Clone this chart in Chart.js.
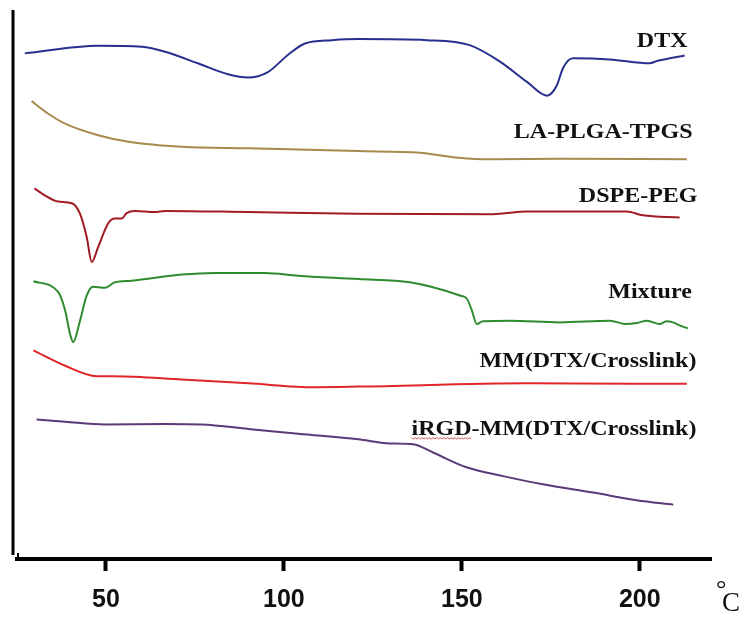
<!DOCTYPE html>
<html>
<head>
    <title>DSC thermograms</title>
    <script src="https://cdn.jsdelivr.net/npm/chart.js"></script>
    <style>
        body {margin: 0; background: #fff;}
        #chartContainer {width: 750px; height: 619px; position: relative;}
    </style>
</head>
<body>
    <div id="chartContainer">
        <canvas id="myChart"></canvas>
    </div>
    <script>
        // curve names, top to bottom
        var names = ['DTX', 'LA-PLGA-TPGS', 'DSPE-PEG', 'Mixture', 'MM(DTX/Crosslink)', 'iRGD-MM(DTX/Crosslink)'];
        var colors = ['#27308f', '#a88a4f', '#a01c24', '#2e8b2e', '#e0262b', '#5b3a7a'];
        var xTicks = [50, 100, 150, 200];

        // temperature (°C) and heat flow (arbitrary offset units)
        var dtxT = [27.2, 47.8, 60.1, 66.6, 75.8, 84.3, 89.9, 95.5, 101.1, 105.9, 113.5, 121.0, 140.2, 152.2, 160.7, 168.3, 173.9, 176.7, 178.4, 181.2, 191.6, 202.8, 204.8, 208.4, 212.6];
        var dtxH = [92.1, 93.5, 93.3, 92.4, 90.3, 88.3, 87.7, 88.7, 91.8, 93.9, 94.5, 94.7, 94.5, 93.6, 90.6, 86.9, 84.4, 86.3, 89.4, 91.2, 91.0, 90.3, 90.7, 91.2, 91.7];

        var laT = [29.1, 33.8, 38.5, 47.8, 57.2, 71.3, 89.9, 120.8, 138.2, 147.5, 158.7, 177.5, 213.2];
        var laH = [83.4, 81.1, 79.3, 77.2, 75.9, 75.1, 74.8, 74.3, 74.0, 73.2, 72.8, 72.9, 72.8];

        var dspeT = [29.9, 32.9, 36.6, 40.4, 42.7, 44.6, 46.0, 47.8, 50.6, 52.5, 54.4, 55.8, 58.1, 63.8, 66.6, 89.9, 120.8, 158.7, 168.3, 196.3, 200.8, 211.2];
        var dspeH = [67.5, 66.2, 65.1, 64.8, 62.9, 58.6, 54.1, 56.8, 61.1, 62.0, 62.0, 63.0, 63.4, 63.2, 63.4, 63.2, 62.9, 62.8, 63.3, 63.3, 62.6, 62.2];

        var mixT = [29.6, 36.6, 38.5, 39.9, 40.8, 42.7, 44.6, 46.4, 49.7, 52.5, 57.2, 71.3, 80.6, 94.7, 104.0, 120.9, 135.4, 149.4, 151.4, 152.8, 154.2, 155.9, 163.5, 177.5, 191.6, 196.0, 199.2, 202.0, 205.6, 207.5, 209.3, 211.0, 213.5];
        var mixH = [50.6, 48.6, 45.3, 41.0, 39.5, 43.4, 48.0, 49.6, 49.4, 50.4, 50.7, 51.8, 52.1, 52.1, 51.6, 51.0, 50.4, 48.0, 47.4, 45.3, 42.8, 43.3, 43.4, 43.1, 43.4, 42.8, 43.0, 43.4, 42.8, 43.3, 43.1, 42.6, 42.0];

        var mmT = [29.6, 38.5, 47.4, 52.5, 71.3, 90.0, 108.7, 120.9, 168.3, 213.2];
        var mmH = [38.0, 35.2, 33.3, 33.3, 32.7, 32.0, 31.3, 31.4, 32.0, 31.9];

        var irgdT = [30.5, 38.5, 49.7, 66.6, 76.9, 90.0, 104.0, 120.9, 128.8, 136.3, 141.9, 151.3, 161.6, 172.8, 186.9, 199.1, 209.4];
        var irgdH = [25.4, 25.0, 24.5, 24.6, 24.5, 23.7, 22.8, 21.8, 21.1, 20.9, 19.4, 16.7, 15.1, 13.6, 12.1, 10.7, 9.9];

        var allT = [dtxT, laT, dspeT, mixT, mmT, irgdT];
        var allH = [dtxH, laH, dspeH, mixH, mmH, irgdH];

        // where each curve name sits (right edge, baseline), in data units
        var labelAt = [[213.4, 93.2], [214.8, 76.6], [216.2, 65.1], [214.6, 47.6], [215.9, 35.0], [215.9, 22.6]];

        var datasets = names.map(function(name, i) {
            return {
                label: name,
                data: allT[i].map(function(t, j) { return {x: t, y: allH[i][j]}; }),
                borderColor: colors[i],
                borderWidth: 2,
                pointRadius: 0,
                fill: false,
                cubicInterpolationMode: 'monotone'
            };
        });

        // curve names, y axis line and the °C unit
        var decorations = {
            id: 'decorations',
            afterDraw: function(chart) {
                var ctx = chart.ctx;
                var area = chart.chartArea;
                var xs = chart.scales.x, ys = chart.scales.y;
                ctx.save();
                ctx.strokeStyle = '#000';
                ctx.lineWidth = 3;
                ctx.beginPath();
                ctx.moveTo(area.left - 4, area.top);
                ctx.lineTo(area.left - 4, area.bottom - 4);
                ctx.stroke();
                ctx.lineWidth = 2;
                ctx.beginPath();
                ctx.moveTo(area.left + 1, area.bottom - 6);
                ctx.lineTo(area.left + 1, area.bottom);
                ctx.stroke();

                ctx.fillStyle = '#111';
                ctx.font = 'bold 20px "Liberation Serif", "Times New Roman", serif';
                ctx.textAlign = 'right';
                ctx.textBaseline = 'alphabetic';
                names.forEach(function(name, i) {
                    var px = xs.getPixelForValue(labelAt[i][0]);
                    var py = ys.getPixelForValue(labelAt[i][1]);
                    ctx.save();
                    ctx.translate(px, py);
                    ctx.scale(1.2, 1);
                    ctx.fillText(name, 0, 0);
                    if (name.indexOf('iRGD') === 0) {
                        // spell-check squiggle under "iRGD"
                        var full = ctx.measureText(name).width;
                        var w = ctx.measureText('iRGD').width;
                        ctx.strokeStyle = '#d04040';
                        ctx.lineWidth = 0.8;
                        ctx.beginPath();
                        for (var k = 0; k <= w; k += 1.5) {
                            var yy = 3 + ((Math.round(k / 1.5) % 2) ? 1 : -0.2);
                            if (k === 0) ctx.moveTo(-full + k, yy); else ctx.lineTo(-full + k, yy);
                        }
                        ctx.stroke();
                    }
                    ctx.restore();
                });

                ctx.textAlign = 'left';
                ctx.font = '26px "Liberation Serif", "Times New Roman", serif';
                ctx.fillText('°', area.right + 5, area.bottom + 38);
                ctx.font = '27px "Liberation Serif", "Times New Roman", serif';
                ctx.fillText('C', area.right + 11, area.bottom + 52);
                ctx.restore();
            }
        };

        var ctx = document.getElementById('myChart').getContext('2d');
        new Chart(ctx, {
            type: 'line',
            data: {datasets: datasets},
            options: {
                responsive: true,
                maintainAspectRatio: false,
                animation: false,
                layout: {padding: {left: 17, right: 39, top: 10, bottom: -10}},
                plugins: {
                    legend: {display: false},
                    tooltip: {enabled: false}
                },
                scales: {
                    x: {
                        type: 'linear',
                        min: 25,
                        max: 220,
                        afterBuildTicks: function(scale) {
                            scale.ticks = xTicks.map(function(v) { return {value: v}; });
                        },
                        ticks: {
                            color: '#111',
                            padding: 14,
                            font: {family: '"Liberation Sans", Arial, sans-serif', size: 25, weight: 'bold'}
                        },
                        grid: {
                            display: true,
                            drawOnChartArea: false,
                            drawTicks: true,
                            tickLength: 12,
                            tickWidth: 4,
                            tickColor: '#000'
                        },
                        border: {display: true, width: 4, color: '#000'}
                    },
                    y: {
                        display: false,
                        min: 0,
                        max: 100
                    }
                }
            },
            plugins: [decorations]
        });
    </script>
</body>
</html>
